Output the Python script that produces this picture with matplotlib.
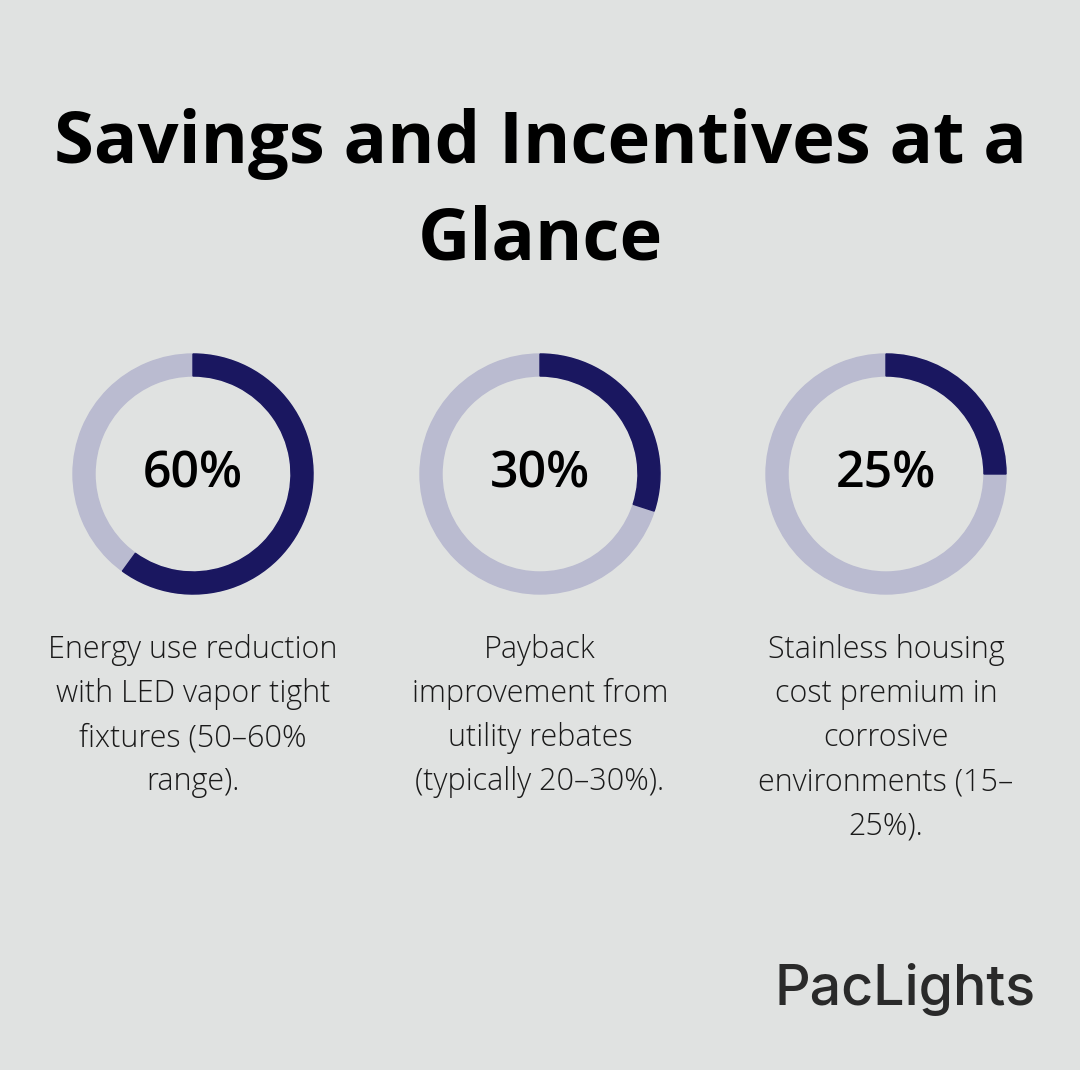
import matplotlib.pyplot as plt
from matplotlib.patches import Wedge

TITLE = "Savings and Incentives at a\nGlance"
VALUES = [60, 30, 25]
LABELS = ["60%", "30%", "25%"]
DESCRIPTIONS = [
    "Energy use reduction\nwith LED vapor tight\nfixtures (50\u201360%\nrange).",
    "Payback\nimprovement from\nutility rebates\n(typically 20\u201330%).",
    "Stainless housing\ncost premium in\ncorrosive\nenvironments (15\u2013\n25%).",
]

BG = "#e0e2e1"
DARK = "#1a1760"
LIGHT = "#babbd0"

W, H = 1080, 1070
fig = plt.figure(figsize=(W / 100, H / 100), dpi=100, facecolor=BG)
ax = fig.add_axes([0, 0, 1, 1])
ax.set_xlim(0, W)
ax.set_ylim(H, 0)
ax.set_aspect("equal")
ax.axis("off")
ax.set_facecolor(BG)

ax.text(540, 192, TITLE, ha="center", va="center", fontsize=52,
        fontweight="bold", family="Open Sans", linespacing=1.45)

centers = [193, 540, 886]
cy, r, w = 474, 120, 22
for cx, v, lab, desc in zip(centers, VALUES, LABELS, DESCRIPTIONS):
    ax.add_patch(Wedge((cx, cy), r, 0, 360, width=w, color=LIGHT))
    # y axis is inverted, so angles run clockwise on screen
    ax.add_patch(Wedge((cx, cy), r, -90, -90 + 360 * v / 100, width=w, color=DARK))
    ax.text(cx, cy, lab, ha="center", va="center", fontsize=36,
            family="Open Sans", fontweight="semibold")
    ax.text(cx, 634, desc, ha="center", va="top", fontsize=22,
            family="Open Sans", fontweight="light", linespacing=1.5,
            color="#1a1a1a")

ax.text(1036, 990, "PacLights", ha="right", va="center", fontsize=40,
        family="Inter", fontweight="medium", color="#2a2a2a")

fig.savefig("out.png", dpi=100, facecolor=BG)
